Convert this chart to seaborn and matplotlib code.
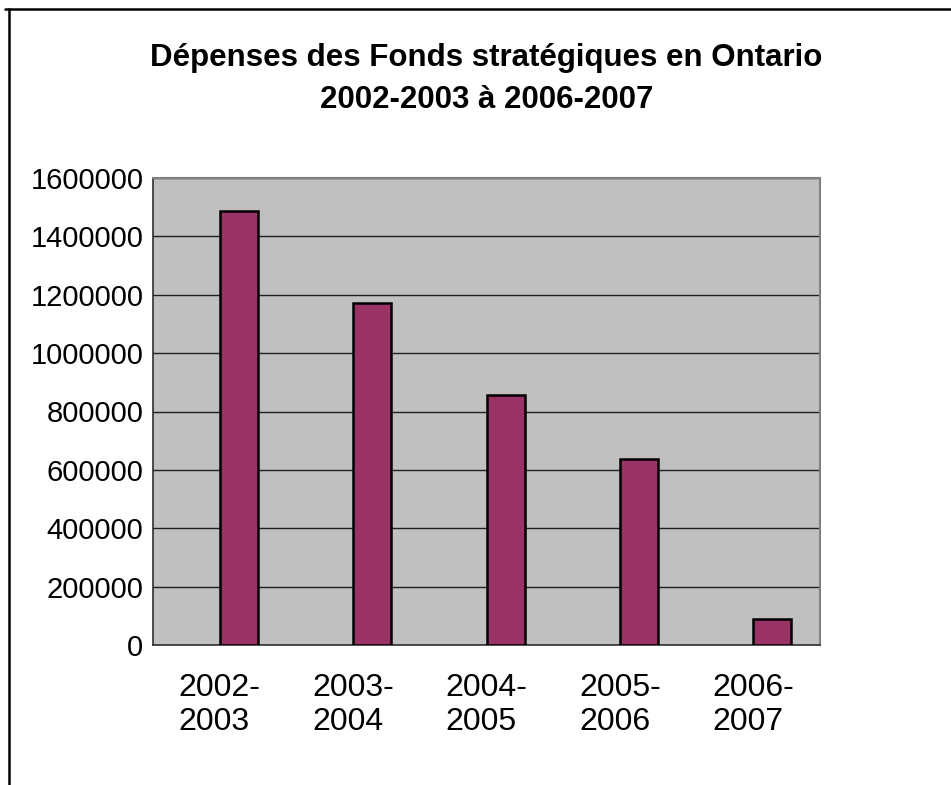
import pandas as pd
import numpy as np
import matplotlib
matplotlib.use("Agg")
import matplotlib.pyplot as plt
import seaborn as sns
from matplotlib.lines import Line2D
from matplotlib.ticker import FuncFormatter, MultipleLocator

# donnees
periodes = ['2002-\n2003', '2003-\n2004', '2004-\n2005', '2005-\n2006', '2006-\n2007']
depenses = [1488000, 1172000, 858000, 638000, 90000]
serie = 'Dépenses'

df = pd.DataFrame({'periode': periodes, 'depenses': depenses, 'serie': serie})

sns.set_style("white")
plt.rcParams['font.family'] = ['Liberation Sans', 'DejaVu Sans']
plt.rcParams['text.color'] = 'black'
plt.rcParams['xtick.color'] = 'black'
plt.rcParams['ytick.color'] = 'black'

fig = plt.figure(figsize=(9.51, 7.85), dpi=100)
ax = fig.add_axes([153/951, 1-645/785, (820-153)/951, (645-178)/785])
ax.set_facecolor('#c0c0c0')

# Excel: une serie vide a gauche de chaque groupe
sns.barplot(data=df, x='periode', y='depenses', hue='serie',
            hue_order=['vide', serie], palette={'vide': '#9999ff', serie: '#993366'},
            width=0.5714, dodge=True, saturation=1, edgecolor='black', linewidth=1.8,
            legend=False, ax=ax, zorder=3)

ax.set_ylim(0, 1600000)
ax.set_xlim(-0.5, 4.5)
ax.yaxis.set_major_locator(MultipleLocator(200000))
ax.yaxis.set_major_formatter(FuncFormatter(lambda v, p: f"{int(v)}"))
ax.grid(axis='y', color='#202020', linewidth=1, zorder=1)
ax.set_axisbelow(True)
ax.set_xlabel('')
ax.set_ylabel('')

ax.set_xticks(range(len(periodes)))
ax.set_xticklabels(periodes, fontsize=23, multialignment='left', linespacing=1.2)
ax.set_xticks(np.arange(-0.5, 5, 1), minor=True)
ax.tick_params(axis='x', which='major', length=0, pad=20)
ax.tick_params(axis='x', which='minor', length=8, width=1, color='#404040', direction='out')
ax.tick_params(axis='y', labelsize=21, length=7, width=1, color='#404040', direction='out', pad=0)

for s in ['top', 'right']:
    ax.spines[s].set_color('#808080')
    ax.spines[s].set_linewidth(1.5)
for s in ['left', 'bottom']:
    ax.spines[s].set_color('#303030')
    ax.spines[s].set_linewidth(1.2)

fig.text(0.5116, 1-58/785, 'Dépenses des Fonds stratégiques en Ontario',
         ha='center', va='center', fontsize=22.5, fontweight='bold')
fig.text(0.5116, 1-100/785, '2002-2003 à 2006-2007',
         ha='center', va='center', fontsize=22.5, fontweight='bold')

# cadre de la zone de graphique
fig.add_artist(Line2D([5/951, 1], [1-9/785, 1-9/785], color='black', linewidth=1.8,
                      transform=fig.transFigure))
fig.add_artist(Line2D([9/951, 9/951], [1-9/785, 0], color='black', linewidth=1.8,
                      transform=fig.transFigure))

fig.savefig('out.png', dpi=100)
